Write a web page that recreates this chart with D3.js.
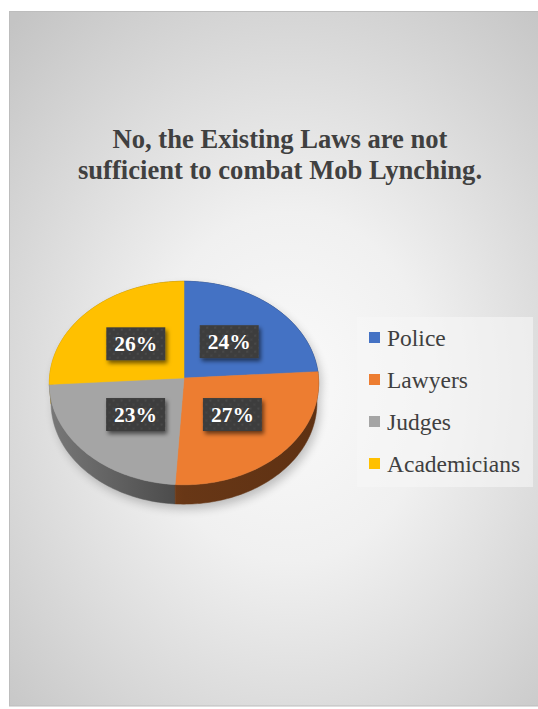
<!DOCTYPE html>
<html>
<head>
<meta charset="utf-8">
<script src="https://cdn.jsdelivr.net/npm/d3@7/dist/d3.min.js"></script>
<style>
html,body{margin:0;padding:0;background:#fff;}
svg{display:block;}
</style>
</head>
<body>
<svg id="chart" width="538" height="709"></svg>
<script>
// ---- data ----
const categories = ["Police", "Lawyers", "Judges", "Academicians"];
const values = [24, 27, 23, 26];
const percentLabels = ["24%", "27%", "23%", "26%"];
const titleLines = ["No, the Existing Laws are not", "sufficient to combat Mob Lynching."];
const palette = ["#4472c4", "#ed7d31", "#a5a5a5", "#ffc000"];

const W = 538, H = 709;
const svg = d3.select("#chart");
const defs = svg.append("defs");

// background gradient
const bg = defs.append("radialGradient").attr("id", "bgGrad")
  .attr("cx", "50%").attr("cy", "54%").attr("r", "72%");
bg.append("stop").attr("offset", "0%").attr("stop-color", "#fafafa");
bg.append("stop").attr("offset", "35%").attr("stop-color", "#f0f0f0");
bg.append("stop").attr("offset", "100%").attr("stop-color", "#c4c4c4");

svg.append("rect").attr("x", 9.5).attr("y", 11.5).attr("width", 560).attr("height", 694.5)
  .attr("fill", "url(#bgGrad)").attr("stroke", "#bdbdbd").attr("stroke-width", 1);

// title
const title = svg.append("text").attr("text-anchor", "middle")
  .attr("font-family", "'Liberation Serif','Times New Roman',serif")
  .attr("font-weight", "bold").attr("font-size", 26.6).attr("fill", "#404040");
titleLines.forEach((t, i) => {
  title.append("tspan").attr("x", 280).attr("y", 148 + i * 31).text(t);
});

// ---- 3D pie via perspective projection ----
const cx = 184, cy0 = 378;
const tilt = 49 * Math.PI / 180;
const Dist = 13.3, focal = 134.5 * 13.3, thick = 0.227;
function project(a, r, yh) {
  const X = r * Math.sin(a), Z = r * Math.cos(a);
  const xc = X;
  const yc = Z * Math.sin(tilt) + yh * Math.cos(tilt);
  const zc = Dist + Z * Math.cos(tilt) - yh * Math.sin(tilt);
  return [cx + focal * xc / zc, cy0 - focal * yc / zc];
}

const pie = d3.pie().sort(null).value(d => d.value);
const arcs = pie(categories.map((c, i) => ({ name: c, value: values[i], color: palette[i], label: percentLabels[i] })));

function arcPoints(a0, a1, yh) {
  const n = Math.max(2, Math.ceil((a1 - a0) / 0.02));
  return d3.range(n + 1).map(k => project(a0 + (a1 - a0) * k / n, 1, yh));
}
const line = d3.line();

// shadow filter
const sh = defs.append("filter").attr("id", "pieShadow")
  .attr("x", "-20%").attr("y", "-20%").attr("width", "140%").attr("height", "140%");
sh.append("feGaussianBlur").attr("stdDeviation", 5);

// silhouette for shadow
const silTop = arcPoints(0, 2 * Math.PI, 0);
const silBot = arcPoints(Math.PI / 2, 3 * Math.PI / 2, -thick);
svg.append("path")
  .attr("d", line(silTop) + "Z " + line(silBot.concat(arcPoints(Math.PI / 2, 3 * Math.PI / 2, 0).reverse())) + "Z")
  .attr("fill", "#000").attr("opacity", 0.22)
  .attr("transform", "translate(3,5)").attr("filter", "url(#pieShadow)");

// wall gradients
arcs.forEach((d, i) => {
  const g = defs.append("linearGradient").attr("id", "wall" + i)
    .attr("gradientUnits", "userSpaceOnUse")
    .attr("x1", 49).attr("y1", 0).attr("x2", 319).attr("y2", 0);
  const c = d3.color(d.data.color);
  g.append("stop").attr("offset", "0%").attr("stop-color", c.darker(0.9));
  g.append("stop").attr("offset", "50%").attr("stop-color", c.darker(2.3));
  g.append("stop").attr("offset", "100%").attr("stop-color", c.darker(2.6));
});

// outer walls (back first)
const wallOrder = arcs.map((d, i) => i)
  .sort((a, b) => Math.cos((arcs[b].startAngle + arcs[b].endAngle) / 2) - Math.cos((arcs[a].startAngle + arcs[a].endAngle) / 2));
wallOrder.forEach(i => {
  const d = arcs[i];
  const top = arcPoints(d.startAngle, d.endAngle, 0);
  const bot = arcPoints(d.startAngle, d.endAngle, -thick).reverse();
  svg.append("path").attr("d", line(top.concat(bot)) + "Z")
    .attr("fill", "url(#wall" + i + ")")
    .attr("stroke", "url(#wall" + i + ")").attr("stroke-width", 0.5);
});

// top faces
const center = project(0, 0, 0);
arcs.forEach(d => {
  const pts = [center].concat(arcPoints(d.startAngle, d.endAngle, 0));
  svg.append("path").attr("d", line(pts) + "Z")
    .attr("fill", d.data.color).attr("stroke", d.data.color).attr("stroke-width", 0.5);
});

// data label boxes
const pat = defs.append("pattern").attr("id", "dots").attr("patternUnits", "userSpaceOnUse")
  .attr("width", 8).attr("height", 8);
pat.append("rect").attr("width", 8).attr("height", 8).attr("fill", "#3e3e3e");
pat.append("circle").attr("cx", 2).attr("cy", 2).attr("r", 1).attr("fill", "#4d4d4d");
pat.append("circle").attr("cx", 6).attr("cy", 6).attr("r", 1).attr("fill", "#474747");

const ds = defs.append("filter").attr("id", "boxShadow")
  .attr("x", "-30%").attr("y", "-30%").attr("width", "160%").attr("height", "170%");
ds.append("feDropShadow").attr("dx", 2).attr("dy", 3).attr("stdDeviation", 2)
  .attr("flood-color", "#000").attr("flood-opacity", 0.55);

const boxW = 59, boxH = 33;
arcs.forEach(d => {
  const mid = (d.startAngle + d.endAngle) / 2;
  const [lx, ly] = project(mid, 0.5, 0);
  const g = svg.append("g").attr("transform", `translate(${lx},${ly})`);
  g.append("rect").attr("x", -boxW / 2).attr("y", -boxH / 2).attr("width", boxW).attr("height", boxH)
    .attr("fill", "url(#dots)").attr("filter", "url(#boxShadow)");
  g.append("text").attr("text-anchor", "middle").attr("y", 7.5)
    .attr("font-family", "'Liberation Serif','Times New Roman',serif")
    .attr("font-weight", "bold").attr("font-size", 21.5).attr("fill", "#ffffff")
    .text(d.data.label);
});

// legend
svg.append("rect").attr("x", 357).attr("y", 317).attr("width", 176).attr("height", 170)
  .attr("fill", "#f7f7f7").attr("opacity", 0.6);
const legY = d3.scalePoint().domain(categories).range([346, 472]);
categories.forEach((c, i) => {
  const y = legY(c);
  svg.append("rect").attr("x", 369).attr("y", y - 14).attr("width", 11).attr("height", 11)
    .attr("fill", palette[i]);
  svg.append("text").attr("x", 387).attr("y", y)
    .attr("font-family", "'Liberation Serif','Times New Roman',serif")
    .attr("font-size", 23.5).attr("fill", "#404040").text(c);
});
</script>
</body>
</html>
